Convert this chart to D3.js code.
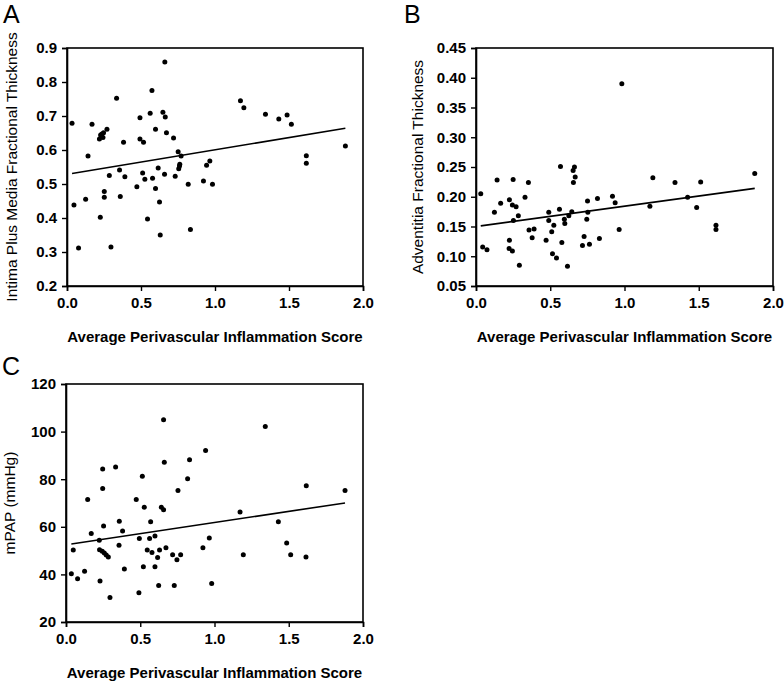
<!DOCTYPE html>
<html><head><meta charset="utf-8">
<script src="https://cdn.jsdelivr.net/npm/d3@7"></script>
<style>body{margin:0;background:#fff}svg{display:block}</style>
</head><body><svg id="c" width="784" height="684"></svg>
<script>
// ---- Panel A: Intima plus media fractional thickness ----
const scoreA = [0.034,0.047,0.078,0.126,0.142,0.169,0.219,0.225,0.227,0.236,0.243,0.247,0.252,0.252,0.27,0.286,0.297,0.335,0.355,0.36,0.382,0.391,0.472,0.493,0.493,0.511,0.517,0.526,0.544,0.562,0.574,0.578,0.598,0.598,0.616,0.625,0.63,0.648,0.659,0.661,0.664,0.672,0.72,0.731,0.751,0.755,0.76,0.762,0.771,0.819,0.834,0.922,0.943,0.965,0.983,1.172,1.195,1.341,1.431,1.487,1.516,1.617,1.617,1.881];
const imtA   = [0.679,0.438,0.312,0.455,0.582,0.676,0.632,0.402,0.644,0.647,0.637,0.651,0.478,0.461,0.661,0.525,0.315,0.752,0.541,0.463,0.623,0.521,0.492,0.695,0.632,0.532,0.623,0.514,0.397,0.708,0.775,0.517,0.661,0.487,0.547,0.447,0.35,0.711,0.529,0.859,0.697,0.651,0.635,0.523,0.595,0.545,0.553,0.558,0.582,0.499,0.366,0.509,0.555,0.568,0.499,0.745,0.724,0.705,0.691,0.703,0.676,0.583,0.561,0.612];
const fitA = [0.5286, 0.0719];           // intercept, slope
const yTicksA = [0.2,0.3,0.4,0.5,0.6,0.7,0.8,0.9];

// ---- Panel B: Adventitia fractional thickness ----
const scoreB = [0.032,0.045,0.074,0.124,0.142,0.166,0.223,0.225,0.225,0.245,0.245,0.25,0.252,0.27,0.285,0.292,0.33,0.353,0.357,0.378,0.391,0.472,0.49,0.49,0.51,0.515,0.524,0.542,0.562,0.569,0.578,0.595,0.598,0.616,0.625,0.645,0.654,0.656,0.663,0.668,0.717,0.728,0.746,0.751,0.753,0.764,0.818,0.831,0.919,0.937,0.964,0.982,1.171,1.191,1.34,1.425,1.486,1.513,1.616,1.616,1.877];
const advB   = [0.205,0.1155,0.111,0.174,0.228,0.189,0.113,0.195,0.127,0.109,0.186,0.229,0.16,0.183,0.168,0.085,0.199,0.224,0.144,0.131,0.146,0.127,0.174,0.16,0.141,0.104,0.152,0.097,0.179,0.251,0.123,0.162,0.155,0.083,0.168,0.175,0.244,0.224,0.25,0.233,0.118,0.133,0.162,0.193,0.174,0.12,0.197,0.13,0.201,0.19,0.145,0.39,0.184,0.232,0.224,0.199,0.182,0.225,0.152,0.145,0.239];
const fitB = [0.150, 0.0341];
const yTicksB = [0.05,0.10,0.15,0.20,0.25,0.30,0.35,0.40,0.45];

// ---- Panel C: mPAP ----
const scoreC = [0.036,0.049,0.078,0.125,0.146,0.17,0.224,0.226,0.229,0.244,0.247,0.247,0.253,0.258,0.271,0.285,0.296,0.334,0.357,0.359,0.381,0.393,0.473,0.491,0.494,0.514,0.521,0.527,0.547,0.563,0.57,0.579,0.599,0.599,0.617,0.624,0.63,0.642,0.657,0.657,0.662,0.673,0.718,0.729,0.747,0.754,0.772,0.819,0.832,0.922,0.94,0.965,0.981,1.172,1.194,1.342,1.43,1.486,1.513,1.616,1.618,1.879];
const mpapC  = [40.3,50.3,38.2,41.3,71.5,57.2,54.3,50.4,37.2,49.7,84.3,76.1,60.3,49.0,48.2,47.3,30.3,85.1,52.2,62.3,58.2,42.3,71.5,32.3,55.1,81.2,43.2,68.2,50.3,55.1,62.1,49.2,56.1,43.2,47.1,35.3,50.3,68.2,67.2,105.0,87.1,51.2,48.3,35.3,46.2,75.2,48.3,80.2,88.2,51.2,92.1,55.3,36.2,66.2,48.3,102.1,62.1,53.2,48.3,47.3,77.3,75.2];
const fitC = [52.46, 9.35];
const yTicksC = [20,40,60,80,100,120];

const xTicks = [0.0,0.5,1.0,1.5,2.0];
const xTitle = "Average Perivascular Inflammation Score";

const svg = d3.select("#c");
const FONT = "Liberation Sans, Arial, Helvetica, sans-serif";

function panel(o){
  const x = d3.scaleLinear().domain([0,2]).range([o.l,o.r]);
  const y = d3.scaleLinear().domain(o.ydom).range([o.b,o.t]);
  const g = svg.append("g");
  // frame
  g.append("rect").attr("x",o.l).attr("y",o.t).attr("width",o.r-o.l).attr("height",o.b-o.t)
    .attr("fill","none").attr("stroke","#000").attr("stroke-width",1.6);
  const ax = g.append("g").attr("transform",`translate(0,${o.b})`)
    .call(d3.axisBottom(x).tickValues(xTicks).tickFormat(d3.format(".1f")).tickSize(5).tickPadding(6));
  const ay = g.append("g").attr("transform",`translate(${o.l},0)`)
    .call(d3.axisLeft(y).tickValues(o.yticks).tickFormat(o.fmt).tickSize(5).tickPadding(5));
  [ax,ay].forEach(a=>{
    a.select(".domain").attr("stroke","#000").attr("stroke-width",1.6);
    a.selectAll(".tick line").attr("stroke","#000").attr("stroke-width",1.4);
    a.selectAll("text").attr("fill","#000").style("font-family",FONT).style("font-size","15px").style("font-weight","bold");
  });
  // fit line
  const xs = d3.extent(o.xs);
  g.append("line").attr("x1",x(xs[0])).attr("y1",y(o.fit[0]+o.fit[1]*xs[0]))
    .attr("x2",x(xs[1])).attr("y2",y(o.fit[0]+o.fit[1]*xs[1]))
    .attr("stroke","#000").attr("stroke-width",1.6);
  // points
  g.selectAll("circle.p").data(o.xs.map((v,i)=>[v,o.ys[i]])).join("circle")
    .attr("cx",d=>x(d[0])).attr("cy",d=>y(d[1])).attr("r",2.5).attr("fill","#000");
  // x title
  g.append("text").attr("x",(o.l+o.r)/2).attr("y",o.b+56).attr("text-anchor","middle")
    .style("font-family",FONT).style("font-size","15px").style("font-weight","bold").text(xTitle);
  // y title
  g.append("text").attr("transform",`translate(${o.ytx},${(o.t+o.b)/2}) rotate(-90)`).attr("text-anchor","middle")
    .style("font-family",FONT).style("font-size","15.5px").text(o.ytitle);
  // letter
  g.append("text").attr("x",o.lx).attr("y",o.ly).style("font-family",FONT).style("font-size","25px").text(o.letter);
}

panel({l:67,r:363,t:48,b:286,ydom:[0.2,0.9],yticks:yTicksA,fmt:d3.format(".1f"),xs:scoreA,ys:imtA,fit:fitA,
  ytitle:"Intima Plus Media Fractional Thickness",ytx:17,letter:"A",lx:3,ly:23});
panel({l:476,r:773,t:48,b:286,ydom:[0.05,0.45],yticks:yTicksB,fmt:d3.format(".2f"),xs:scoreB,ys:advB,fit:fitB,
  ytitle:"Adventitia Fractional Thickness",ytx:423,letter:"B",lx:404,ly:23});
panel({l:66,r:363,t:384,b:622,ydom:[20,120],yticks:yTicksC,fmt:d3.format("d"),xs:scoreC,ys:mpapC,fit:fitC,
  ytitle:"mPAP (mmHg)",ytx:15,letter:"C",lx:2,ly:375});
</script></body></html>
